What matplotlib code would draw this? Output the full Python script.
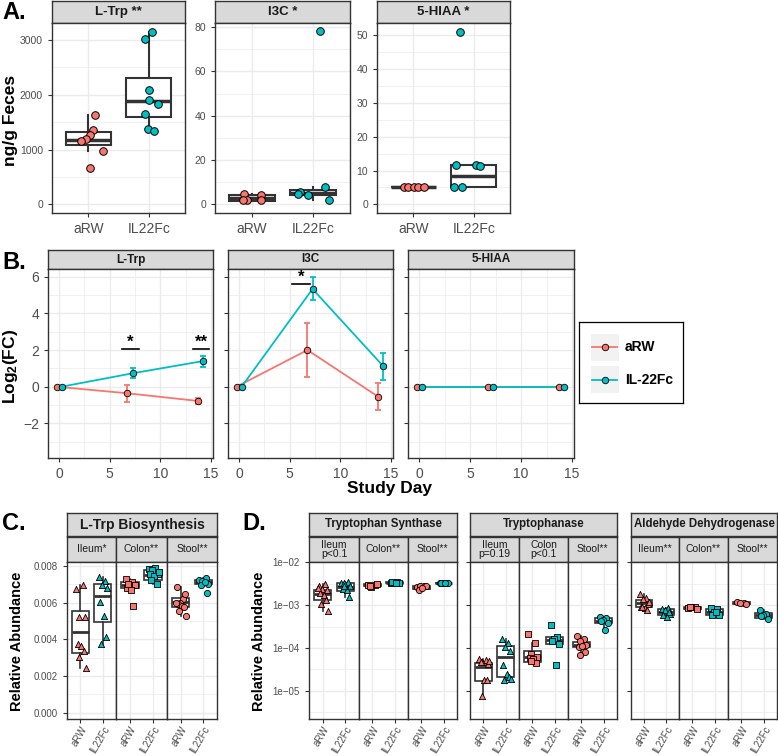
import numpy as np
import matplotlib
matplotlib.use('Agg')
import matplotlib.pyplot as plt
from matplotlib.patches import Rectangle
from matplotlib.ticker import FixedLocator, NullFormatter, FixedFormatter

plt.rcParams['font.family'] = ['Liberation Sans', 'DejaVu Sans']
plt.rcParams['mathtext.fontset'] = 'custom'
plt.rcParams['mathtext.bf'] = 'Liberation Sans:bold'
plt.rcParams['mathtext.rm'] = 'Liberation Sans'

W, H = 778, 756
RED = '#F8766D'
TEAL = '#00BFC4'
DARK = '#333333'
GRID = '#EBEBEB'
STRIP = '#D9D9D9'
TICKC = '#4D4D4D'
TXT = '#1A1A1A'

groups = ['aRW', 'IL22Fc']
legend_labels = ['aRW', 'IL-22Fc']

# ---------------- Panel A data (ng/g feces) ----------------
a_titles = ['L-Trp **', 'I3C *', '5-HIAA *']
a_ltrp_arw = [1624, 1364, 1261, 1194, 1152, 982, 655]
a_ltrp_il = [3140, 3012, 2079, 1909, 1836, 1655, 1376, 1345]
a_i3c_arw = [4.5, 2.0, 1.8, 4.1, 1.8]
a_i3c_il = [5.6, 4.5, 4.2, 78.2, 8.0, 1.8]
a_hiaa_arw = [5.2, 5.2, 5.2, 5.2, 5.2]
a_hiaa_il = [11.8, 11.8, 11.3, 5.2, 5.2, 51.1]
# box stats: whislo, q1, median, q3, whishi
a_ltrp_box = [[982, 1079, 1182, 1321, 1624], [1345, 1588, 1879, 2303, 3140]]
a_i3c_box = [[1.5, 1.6, 2.9, 4.2, 4.5], [1.8, 4.1, 5.0, 6.3, 8.0]]
a_hiaa_box = [[5.2, 5.2, 5.2, 5.2, 5.2], [5.2, 5.2, 8.3, 11.8, 11.8]]
# jitter offsets (category units) as seen in the figure
a_jit = {
    'ltrp': [[0.11, 0.08, 0.03, -0.04, -0.12, 0.25, 0.03],
             [0.05, -0.06, 0.0, 0.01, 0.15, -0.06, -0.01, 0.08]],
    'i3c': [[-0.12, -0.08, -0.15, 0.15, 0.15],
            [-0.21, -0.24, -0.08, 0.11, 0.2, 0.26]],
    'hiaa': [[-0.15, -0.09, 0.02, 0.07, 0.17],
             [-0.29, 0.04, 0.1, -0.32, -0.19, -0.22]],
}

# ---------------- Panel B data (log2 FC) ----------------
b_titles = ['L-Trp', 'I3C', '5-HIAA']
b_days = [0, 7, 14]
b_ltrp_arw = [0, -0.36, -0.78]
b_ltrp_arw_lo = [0, -0.82, -0.95]
b_ltrp_arw_hi = [0, 0.09, -0.64]
b_ltrp_il = [0, 0.73, 1.40]
b_ltrp_il_lo = [0, 0.45, 1.05]
b_ltrp_il_hi = [0, 1.00, 1.67]
b_i3c_arw = [0, 2.00, -0.55]
b_i3c_arw_lo = [0, 0.55, -1.27]
b_i3c_arw_hi = [0, 3.45, 0.18]
b_i3c_il = [0, 5.33, 1.11]
b_i3c_il_lo = [0, 4.73, 0.36]
b_i3c_il_hi = [0, 5.96, 1.85]
b_hiaa_arw = [0, 0, 0]
b_hiaa_il = [0, 0, 0]
# significance bars: (day from, day to, height, label)
b_sig = {0: [(6.2, 7.85, 2.06, '*'), (13.2, 14.85, 2.06, '**')],
         1: [(5.25, 7.0, 5.59, '*')],
         2: []}

# ---------------- Panel C data (relative abundance) ----------------
c_title = 'L-Trp Biosynthesis'
c_sites = ['Ileum*', 'Colon**', 'Stool**']
c_vals = {
    'Ileum*': [[0.00673, 0.00698, 0.00520, 0.00520, 0.00375, 0.00366, 0.00338, 0.00305, 0.00242],
               [0.00742, 0.00718, 0.00698, 0.00682, 0.00602, 0.00527, 0.00415, 0.00375]],
    'Colon**': [[0.00729, 0.00711, 0.00697, 0.00697, 0.00682, 0.00669, 0.00582, 0.00700],
                [0.00784, 0.00787, 0.00778, 0.00758, 0.00754, 0.00744, 0.00700, 0.00722, 0.00770]],
    'Stool**': [[0.00684, 0.00618, 0.00597, 0.00646, 0.00593, 0.00582, 0.00575, 0.00555, 0.00529, 0.00600],
                [0.00722, 0.00736, 0.00716, 0.00704, 0.00698, 0.00712, 0.00651]],
}
c_box = {
    'Ileum*': [[0.00242, 0.00327, 0.00438, 0.00555, 0.00698], [0.00366, 0.00493, 0.00638, 0.00700, 0.00742]],
    'Colon**': [[0.00669, 0.00680, 0.00697, 0.00711, 0.00729], [0.00700, 0.00722, 0.00749, 0.00778, 0.00787]],
    'Stool**': [[0.00529, 0.00575, 0.00606, 0.00624, 0.00684], [0.00698, 0.00700, 0.00714, 0.00724, 0.00736]],
}

# ---------------- Panel D data (relative abundance, log scale) ----------------
d_enzymes = ['Tryptophan Synthase', 'Tryptophanase', 'Aldehyde Dehydrogenase']
d_sites = {
    'Tryptophan Synthase': ['Ileum\np<0.1', 'Colon**', 'Stool**'],
    'Tryptophanase': ['Ileum\np=0.19', 'Colon\np<0.1', 'Stool**'],
    'Aldehyde Dehydrogenase': ['Ileum**', 'Colon**', 'Stool**'],
}
d_vals = {
    'Tryptophan Synthase': [
        [[2.88e-3, 3.16e-3, 2.40e-3, 2.29e-3, 1.91e-3, 1.74e-3, 1.29e-3, 1.05e-3, 7.2e-4, 2.51e-3],
         [3.39e-3, 3.55e-3, 3.39e-3, 2.88e-3, 2.40e-3, 2.29e-3, 1.55e-3, 2.82e-3]],
        [[3.02e-3, 2.95e-3, 2.63e-3, 3.16e-3, 2.82e-3],
         [3.39e-3, 3.47e-3, 3.31e-3, 3.39e-3, 3.47e-3, 3.31e-3]],
        [[2.63e-3, 2.75e-3, 2.75e-3, 2.75e-3, 2.29e-3, 2.51e-3],
         [3.39e-3, 3.31e-3, 3.24e-3, 3.31e-3, 3.39e-3, 3.24e-3]],
    ],
    'Tryptophanase': [
        [[5.6e-5, 5.25e-5, 4.6e-5, 4.3e-5, 4.6e-5, 1.78e-5, 1.78e-5, 7.6e-6, 5.0e-5],
         [1.58e-4, 1.32e-4, 1.05e-4, 8.5e-5, 4.1e-5, 2.5e-5, 2.1e-5, 1.78e-5, 1.9e-5]],
        [[2.14e-4, 1.32e-4, 7.1e-5, 6.2e-5, 5.75e-5, 5.4e-5, 4.5e-5, 5.0e-5],
         [3.4e-4, 1.82e-4, 1.66e-4, 1.26e-4, 1.48e-4, 4.0e-5]],
        [[1.86e-4, 1.58e-4, 1.48e-4, 1.20e-4, 1.05e-4, 1.12e-4, 7.9e-5, 6.9e-5],
         [5.25e-4, 5.0e-4, 4.5e-4, 3.9e-4, 4.2e-4, 2.6e-4]],
    ],
    'Aldehyde Dehydrogenase': [
        [[1.82e-3, 1.48e-3, 1.38e-3, 1.07e-3, 8.9e-4, 8.7e-4, 7.8e-4, 9.1e-4, 1.20e-3],
         [8.3e-4, 8.7e-4, 7.6e-4, 6.3e-4, 5.75e-4, 5.25e-4, 7.1e-4]],
        [[8.7e-4, 9.1e-4, 8.9e-4, 8.3e-4, 9.3e-4],
         [8.7e-4, 8.3e-4, 7.1e-4, 6.0e-4, 5.75e-4, 6.9e-4]],
        [[1.17e-3, 1.12e-3, 1.10e-3, 1.05e-3],
         [7.8e-4, 6.3e-4, 6.0e-4, 4.8e-4, 5.6e-4]],
    ],
}
d_box = {
    'Tryptophan Synthase': [
        [[7.2e-4, 1.35e-3, 1.82e-3, 2.29e-3, 3.16e-3], [1.55e-3, 2.19e-3, 2.63e-3, 3.24e-3, 3.55e-3]],
        [[2.63e-3, 2.75e-3, 2.95e-3, 3.09e-3, 3.16e-3], [3.24e-3, 3.31e-3, 3.39e-3, 3.47e-3, 3.55e-3]],
        [[2.29e-3, 2.40e-3, 2.57e-3, 2.75e-3, 2.82e-3], [3.16e-3, 3.24e-3, 3.31e-3, 3.39e-3, 3.47e-3]],
    ],
    'Tryptophanase': [
        [[7.6e-6, 1.70e-5, 3.6e-5, 4.5e-5, 5.6e-5], [1.78e-5, 2.14e-5, 6.2e-5, 1.10e-4, 1.58e-4]],
        [[4.5e-5, 4.7e-5, 6.2e-5, 8.3e-5, 1.32e-4], [1.26e-4, 1.26e-4, 1.55e-4, 1.82e-4, 1.82e-4]],
        [[6.9e-5, 1.05e-4, 1.15e-4, 1.38e-4, 1.86e-4], [2.6e-4, 3.8e-4, 4.3e-4, 4.9e-4, 5.25e-4]],
    ],
    'Aldehyde Dehydrogenase': [
        [[7.8e-4, 9.3e-4, 1.12e-3, 1.35e-3, 1.82e-3], [5.25e-4, 6.0e-4, 6.8e-4, 8.1e-4, 8.7e-4]],
        [[8.1e-4, 8.3e-4, 8.7e-4, 9.1e-4, 9.3e-4], [5.75e-4, 6.0e-4, 7.1e-4, 8.3e-4, 8.7e-4]],
        [[1.05e-3, 1.07e-3, 1.12e-3, 1.17e-3, 1.17e-3], [4.8e-4, 5.1e-4, 5.75e-4, 6.6e-4, 7.8e-4]],
    ],
}
site_markers = ['^', 's', 'o']

# ---------------- style constants ----------------
JIT = [-0.18, 0.10, -0.04, 0.20, -0.12, 0.05, 0.15, -0.08, 0.24, -0.22]
DODGE = 0.25

fig = plt.figure(figsize=(W / 100, H / 100), dpi=100)


def px_axes(x0, y0, x1, y1):
    return fig.add_axes([x0 / W, 1 - y1 / H, (x1 - x0) / W, (y1 - y0) / H])


def strip(x0, y0, x1, y1, text, fs, bold=True):
    ax = px_axes(x0, y0, x1, y1)
    ax.set_facecolor(STRIP)
    ax.set_xticks([])
    ax.set_yticks([])
    for s in ax.spines.values():
        s.set_color(DARK)
        s.set_linewidth(1.0)
    ax.text(0.5, 0.5, text, ha='center', va='center', fontsize=fs,
            fontweight='bold' if bold else 'normal', color=TXT,
            transform=ax.transAxes, linespacing=0.95)
    return ax


def style_panel(ax):
    ax.set_facecolor('white')
    for s in ax.spines.values():
        s.set_color(DARK)
        s.set_linewidth(1.0)
    ax.grid(True, which='major', color=GRID, lw=1.0)
    ax.grid(True, which='minor', color=GRID, lw=0.5)
    ax.set_axisbelow(True)
    ax.tick_params(which='major', color=DARK, length=3, width=0.8, labelcolor=TICKC)
    ax.tick_params(which='minor', length=0)


def draw_box(ax, pos, st, lw=1.2, medlw=2.2):
    stats = [dict(whislo=st[0], q1=st[1], med=st[2], q3=st[3], whishi=st[4])]
    ax.bxp(stats, positions=[pos], widths=0.75, showcaps=False, showfliers=False,
           patch_artist=True, manage_ticks=False,
           boxprops=dict(facecolor='white', edgecolor=DARK, linewidth=lw),
           medianprops=dict(color=DARK, linewidth=medlw),
           whiskerprops=dict(color=DARK, linewidth=lw), zorder=2)


def rotated_xlabels(ax):
    ax.set_xticks([1, 2])
    ax.set_xticklabels(groups, fontsize=7, rotation=60, ha='right', va='top',
                       rotation_mode='anchor')
    ax.tick_params(axis='x', pad=0.8)


# ================= Panel A =================
a_frames = [(52, 185), (215, 350), (377, 510)]
a_data = [(a_ltrp_arw, a_ltrp_il, a_ltrp_box, a_jit['ltrp'], (-157, 3307), [0, 1000, 2000, 3000], [500, 1500, 2500]),
          (a_i3c_arw, a_i3c_il, a_i3c_box, a_jit['i3c'], (-3.9, 81.9), [0, 20, 40, 60, 80], [10, 30, 50, 70]),
          (a_hiaa_arw, a_hiaa_il, a_hiaa_box, a_jit['hiaa'], (-2.55, 53.7), [0, 10, 20, 30, 40, 50], [5, 15, 25, 35, 45])]
for (x0, x1), title, (va, vi, box, jit, ylim, maj, mnr) in zip(a_frames, a_titles, a_data):
    strip(x0, 1, x1, 23, title, 9.5)
    ax = px_axes(x0, 23, x1, 213)
    style_panel(ax)
    for gi, (vals, col) in enumerate([(va, RED), (vi, TEAL)]):
        pos = gi + 1
        draw_box(ax, pos, box[gi], lw=1.5, medlw=2.5)
        ax.scatter(pos + np.array(jit[gi]), vals, s=30, c=col, edgecolors='black',
                   linewidths=0.7, zorder=3)
    ax.set_xlim(0.4, 2.6)
    ax.set_ylim(*ylim)
    ax.set_xticks([1, 2])
    ax.set_xticklabels(groups, fontsize=10)
    ax.yaxis.set_major_locator(FixedLocator(maj))
    ax.yaxis.set_minor_locator(FixedLocator(mnr))
    ax.tick_params(axis='y', labelsize=7.5)

fig.text(11 / W, 1 - 120 / H, 'ng/g Feces', rotation=90, ha='center', va='center',
         fontsize=12.5, fontweight='bold')
fig.text(2 / W, 1 - 1 / H, 'A.', ha='left', va='top', fontsize=17, fontweight='bold')

# ================= Panel B =================
b_frames = [(48, 213), (228, 393), (408, 574)]
b_series = [
    [(b_ltrp_arw, b_ltrp_arw_lo, b_ltrp_arw_hi), (b_ltrp_il, b_ltrp_il_lo, b_ltrp_il_hi)],
    [(b_i3c_arw, b_i3c_arw_lo, b_i3c_arw_hi), (b_i3c_il, b_i3c_il_lo, b_i3c_il_hi)],
    [(b_hiaa_arw, b_hiaa_arw, b_hiaa_arw), (b_hiaa_il, b_hiaa_il, b_hiaa_il)],
]
days = np.array(b_days, dtype=float)
for pi, ((x0, x1), title, series) in enumerate(zip(b_frames, b_titles, b_series)):
    strip(x0, 250, x1, 269, title, 8.5)
    ax = px_axes(x0, 269, x1, 458)
    style_panel(ax)
    for gi, ((m, lo, hi), col) in enumerate(zip(series, [RED, TEAL])):
        x = days + (-DODGE if gi == 0 else DODGE)
        m = np.array(m, float)
        lo = np.array(lo, float)
        hi = np.array(hi, float)
        ax.plot(x, m, color=col, lw=1.3, zorder=2 + gi)
        mask = hi > lo
        if mask.any():
            ax.errorbar(x[mask], m[mask], yerr=[m[mask] - lo[mask], hi[mask] - m[mask]],
                        fmt='none', ecolor=col, elinewidth=1.3, capsize=2.5, capthick=1.3,
                        zorder=2 + gi)
        ax.scatter(x, m, s=22, c=col, edgecolors='black', linewidths=0.6, zorder=4 + gi)
    for (d0, d1, yv, lab) in b_sig[pi]:
        ax.plot([d0, d1], [yv, yv], color='black', lw=1.2, zorder=6)
        ax.text((d0 + d1) / 2, yv - 0.05, lab, ha='center', va='bottom', fontsize=12,
                fontweight='bold', zorder=6)
    ax.set_xlim(-1.1, 15.2)
    ax.set_ylim(-3.89, 6.42)
    ax.xaxis.set_major_locator(FixedLocator([0, 5, 10, 15]))
    ax.xaxis.set_minor_locator(FixedLocator([2.5, 7.5, 12.5]))
    ax.yaxis.set_major_locator(FixedLocator([-2, 0, 2, 4, 6]))
    ax.yaxis.set_minor_locator(FixedLocator([-3, -1, 1, 3, 5]))
    ax.tick_params(axis='x', labelsize=10)
    ax.tick_params(axis='y', labelsize=10)
    if pi > 0:
        ax.set_yticklabels([])

fig.text(11 / W, 1 - 366 / H, r'$\mathbf{Log_2(FC)}$', rotation=90, ha='center', va='center',
         fontsize=12.5)
fig.text(390 / W, 1 - 488 / H, 'Study Day', ha='center', va='center', fontsize=12.5,
         fontweight='bold')
fig.text(2 / W, 1 - 251 / H, 'B.', ha='left', va='top', fontsize=17, fontweight='bold')

# legend
lax = px_axes(579, 322, 683, 403)
lax.set_xlim(0, 104)
lax.set_ylim(81, 0)
lax.set_xticks([])
lax.set_yticks([])
for s in lax.spines.values():
    s.set_color('black')
    s.set_linewidth(0.9)
for i, (lab, col) in enumerate(zip(legend_labels, [RED, TEAL])):
    yc = 25 + i * 33
    lax.add_patch(Rectangle((11.5, yc - 13.5), 28, 27, facecolor='#F2F2F2', edgecolor='none'))
    lax.plot([13, 38], [yc, yc], color=col, lw=1.3)
    lax.scatter([25.5], [yc], s=22, c=col, edgecolors='black', linewidths=0.6, zorder=3)
    lax.text(46, yc, lab, ha='left', va='center', fontsize=10, fontweight='bold')

# ================= Panel C =================
strip(67, 513, 217, 536, c_title, 10)
c_frames = [(67, 116), (116, 167), (167, 217)]
for si, ((x0, x1), site) in enumerate(zip(c_frames, c_sites)):
    strip(x0, 537, x1, 562, site, 7.5, bold=False)
    ax = px_axes(x0, 562, x1, 719)
    style_panel(ax)
    for gi, col in enumerate([RED, TEAL]):
        pos = gi + 1
        vals = c_vals[site][gi]
        draw_box(ax, pos, c_box[site][gi], lw=1.2, medlw=2.0)
        ax.scatter(pos + np.array(JIT[:len(vals)]), vals, s=20, c=col,
                   marker=site_markers[si], edgecolors='black', linewidths=0.6, zorder=3)
    ax.set_xlim(0.4, 2.6)
    ax.set_ylim(-0.00034, 0.00822)
    ax.yaxis.set_major_locator(FixedLocator([0, 0.002, 0.004, 0.006, 0.008]))
    ax.yaxis.set_minor_locator(FixedLocator([0.001, 0.003, 0.005, 0.007]))
    rotated_xlabels(ax)
    if si == 0:
        ax.set_yticklabels(['0.000', '0.002', '0.004', '0.006', '0.008'], fontsize=7)
    else:
        ax.tick_params(axis='y', which='both', length=0, labelleft=False)

fig.text(17 / W, 1 - 641 / H, 'Relative Abundance', rotation=90, ha='center', va='center',
         fontsize=10.5, fontweight='bold')
fig.text(2 / W, 1 - 512 / H, 'C.', ha='left', va='top', fontsize=17, fontweight='bold')

# ================= Panel D =================
d_frames = {
    'Tryptophan Synthase': [(309, 359), (359, 408), (408, 457)],
    'Tryptophanase': [(470, 519), (519, 568), (568, 617)],
    'Aldehyde Dehydrogenase': [(631, 679), (679, 728), (728, 777)],
}
for ei, enz in enumerate(d_enzymes):
    frames = d_frames[enz]
    strip(frames[0][0], 513, frames[-1][1], 536, enz, 8.3)
    for si, ((x0, x1), site) in enumerate(zip(frames, d_sites[enz])):
        strip(x0, 537, x1, 562, site, 7.5, bold=False)
        ax = px_axes(x0, 562, x1, 719)
        style_panel(ax)
        ax.set_yscale('log')
        for gi, col in enumerate([RED, TEAL]):
            pos = gi + 1
            vals = d_vals[enz][si][gi]
            draw_box(ax, pos, d_box[enz][si][gi], lw=1.2, medlw=2.0)
            ax.scatter(pos + np.array(JIT[:len(vals)]), vals, s=20, c=col,
                       marker=site_markers[si], edgecolors='black', linewidths=0.6, zorder=3)
        ax.set_xlim(0.4, 2.6)
        ax.set_ylim(10 ** -5.66, 10 ** -1.99)
        ax.yaxis.set_major_locator(FixedLocator([1e-5, 1e-4, 1e-3, 1e-2]))
        ax.yaxis.set_minor_locator(FixedLocator([10 ** -5.5, 10 ** -4.5, 10 ** -3.5, 10 ** -2.5]))
        ax.yaxis.set_minor_formatter(NullFormatter())
        rotated_xlabels(ax)
        if si == 0 and ei == 0:
            ax.yaxis.set_major_formatter(FixedFormatter(['1e\u221205', '1e\u221204', '1e\u221203', '1e\u221202']))
            ax.tick_params(axis='y', labelsize=7)
        elif si == 0:
            ax.yaxis.set_major_formatter(NullFormatter())
        else:
            ax.yaxis.set_major_formatter(NullFormatter())
            ax.tick_params(axis='y', which='both', length=0)

fig.text(259 / W, 1 - 641 / H, 'Relative Abundance', rotation=90, ha='center', va='center',
         fontsize=10.5, fontweight='bold')
fig.text(242 / W, 1 - 512 / H, 'D.', ha='left', va='top', fontsize=17, fontweight='bold')

fig.savefig('out.png', dpi=100)
